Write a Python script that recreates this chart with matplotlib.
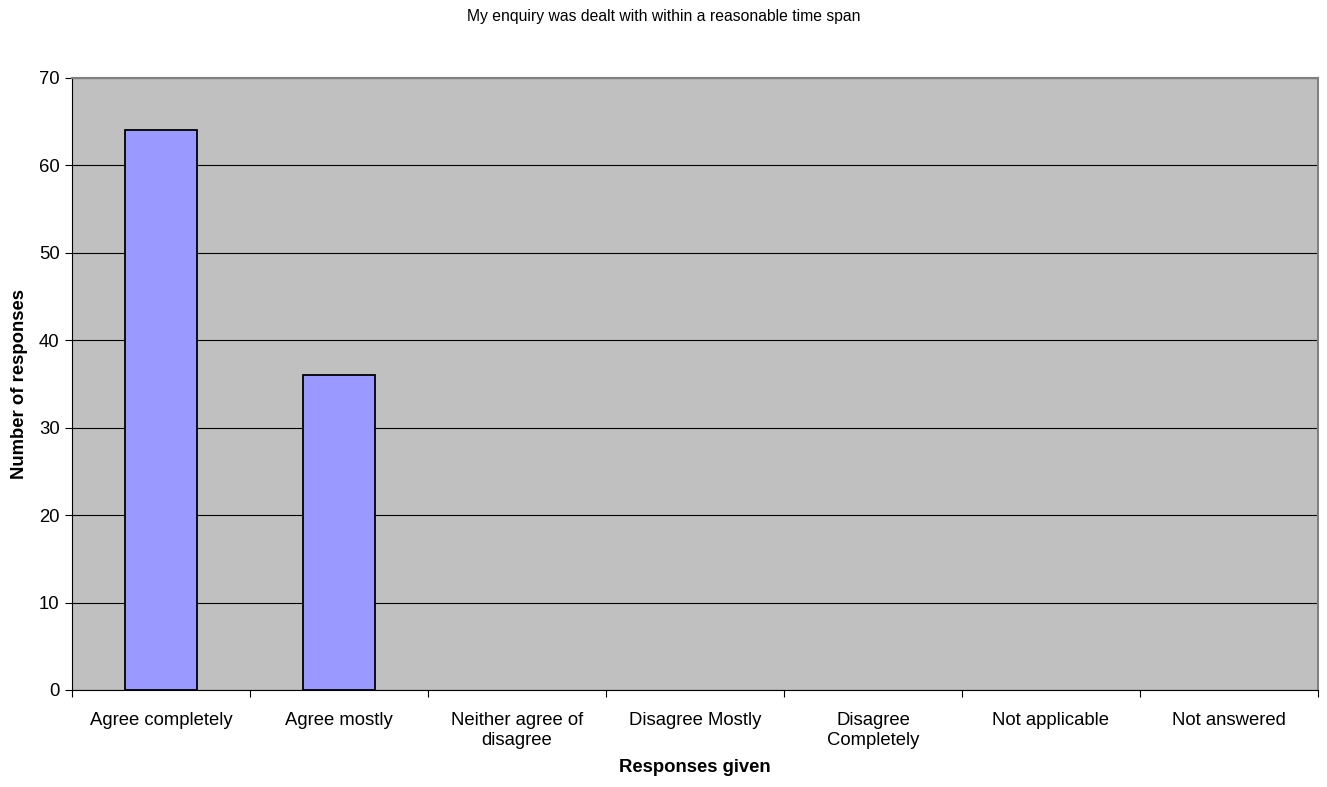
import matplotlib
matplotlib.use("Agg")
import matplotlib.pyplot as plt
import numpy as np

plt.rcParams['font.family'] = ['Liberation Sans', 'DejaVu Sans']

categories = ["Agree completely", "Agree mostly", "Neither agree of\ndisagree",
              "Disagree Mostly", "Disagree\nCompletely", "Not applicable", "Not answered"]
responses = [64, 36, 0, 0, 0, 0, 0]
y_ticks = [0, 10, 20, 30, 40, 50, 60, 70]

fig = plt.figure(figsize=(13.27, 7.87), dpi=100)
ax = fig.add_axes([0.0543, 0.1233, 0.9389, 0.7776])
ax.set_facecolor("#C0C0C0")

x = np.arange(len(categories))
bars = ax.bar(x, responses, width=0.4, color="#9999FF", edgecolor="black",
              linewidth=1.3, zorder=3)
# empty categories get no visible outline
for b, v in zip(bars, responses):
    if v == 0:
        b.set_linewidth(0)

ax.set_xlim(-0.5, len(categories) - 0.5)
ax.set_ylim(0, 70)
ax.set_yticks(y_ticks)
ax.yaxis.grid(True, color="black", linewidth=0.8, zorder=1)
ax.set_axisbelow(True)

ax.set_xticks(np.arange(len(categories) + 1) - 0.5)
ax.set_xticklabels([])
ax.set_xticks(x, minor=True)
ax.set_xticklabels(categories, minor=True, fontsize=13.3)
ax.tick_params(axis="x", which="minor", length=0, pad=16)
ax.tick_params(axis="x", which="major", length=5, direction="out", width=0.8)
ax.tick_params(axis="y", length=5, direction="out", width=0.8, labelsize=13.3, pad=4)

for side in ("top", "right"):
    ax.spines[side].set_color("#808080")
    ax.spines[side].set_linewidth(1.5)
for side in ("left", "bottom"):
    ax.spines[side].set_color("black")
    ax.spines[side].set_linewidth(0.8)

ax.set_xlabel("Responses given", fontsize=13.3, fontweight="bold", labelpad=7)
ax.set_ylabel("Number of responses", fontsize=13.3, fontweight="bold", labelpad=8)
fig.text(0.5, 0.988, "My enquiry was dealt with within a reasonable time span",
         ha="center", va="top", fontsize=11.3)

fig.savefig("out.png", dpi=100)
